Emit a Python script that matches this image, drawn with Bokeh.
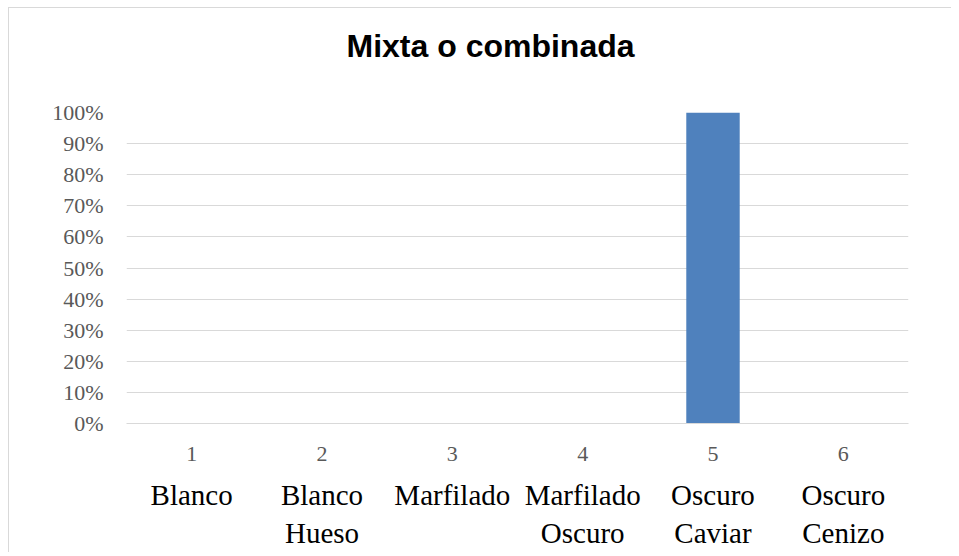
from bokeh.plotting import figure
from bokeh.models import LinearAxis, NumeralTickFormatter, FixedTicker, Range1d, Title
from bokeh.embed import file_html
from bokeh.resources import INLINE

numbers = ["1", "2", "3", "4", "5", "6"]
names = ["Blanco", "Blanco\nHueso", "Marfilado", "Marfilado\nOscuro", "Oscuro\nCaviar", "Oscuro\nCenizo"]
values = [0.0, 0.0, 0.0, 0.0, 1.0, 0.0]
y_ticks = [0.0, 0.1, 0.2, 0.3, 0.4, 0.5, 0.6, 0.7, 0.8, 0.9, 1.0]
title_text = "Mixta o combinada"

xpos = [i + 1 for i in range(len(numbers))]

W, H = 943, 545
p = figure(width=W, height=H, x_range=Range1d(0.5, len(numbers) + 0.5), y_range=Range1d(0, 1.0),
           output_backend="svg", toolbar_location=None,
           min_border_left=117, min_border_right=44, min_border_top=104, min_border_bottom=130)
p.styles = {"margin-left": "8px", "margin-top": "7px",
            "border-left": "1px solid #d9d9d9", "border-top": "1px solid #d9d9d9"}
p.outline_line_color = None
p.background_fill_color = "white"
p.border_fill_color = "white"

p.vbar(x=xpos, top=values, width=0.41, fill_color="#4F81BD", line_color=None)

# spacer between frame and title (invisible), then the title itself
spacer = Title(text=" ", text_font_size="1px", standoff=46, text_color="white")
p.add_layout(spacer, "above")
main_title = Title(text=title_text, text_font="Liberation Sans", text_font_style="bold",
                   text_font_size="32px", text_color="black", align="left", offset=220, standoff=0)
p.add_layout(main_title, "above")

# y axis
ya = p.yaxis[0]
ya.ticker = FixedTicker(ticks=y_ticks)
ya.formatter = NumeralTickFormatter(format="0%")
ya.axis_line_color = None
ya.major_tick_line_color = None
ya.minor_tick_line_color = None
ya.major_label_text_font = "Liberation Serif"
ya.major_label_text_font_size = "22px"
ya.major_label_text_color = "#595959"
ya.major_label_standoff = 17

p.ygrid.ticker = FixedTicker(ticks=y_ticks)
p.ygrid.grid_line_color = "#d9d9d9"
p.ygrid.grid_line_width = 1
p.xgrid.grid_line_color = None

# x axis: numbers
xa = p.xaxis[0]
xa.ticker = FixedTicker(ticks=xpos)
xa.major_label_overrides = dict(zip(xpos, numbers))
xa.axis_line_color = "#d9d9d9"
xa.major_tick_line_color = None
xa.minor_tick_line_color = None
xa.major_label_text_font = "Liberation Serif"
xa.major_label_text_font_size = "22px"
xa.major_label_text_color = "#595959"
xa.major_label_standoff = 17

# second x axis: names
xa2 = LinearAxis(ticker=FixedTicker(ticks=xpos))
xa2.major_label_overrides = dict(zip(xpos, names))
xa2.axis_line_color = None
xa2.major_tick_line_color = None
xa2.minor_tick_line_color = None
xa2.major_label_text_font = "Liberation Serif"
xa2.major_label_text_font_size = "29px"
xa2.major_label_text_color = "black"
xa2.major_label_standoff = 9
p.add_layout(xa2, "below")

open("out.html", "w").write(file_html(p, INLINE))
